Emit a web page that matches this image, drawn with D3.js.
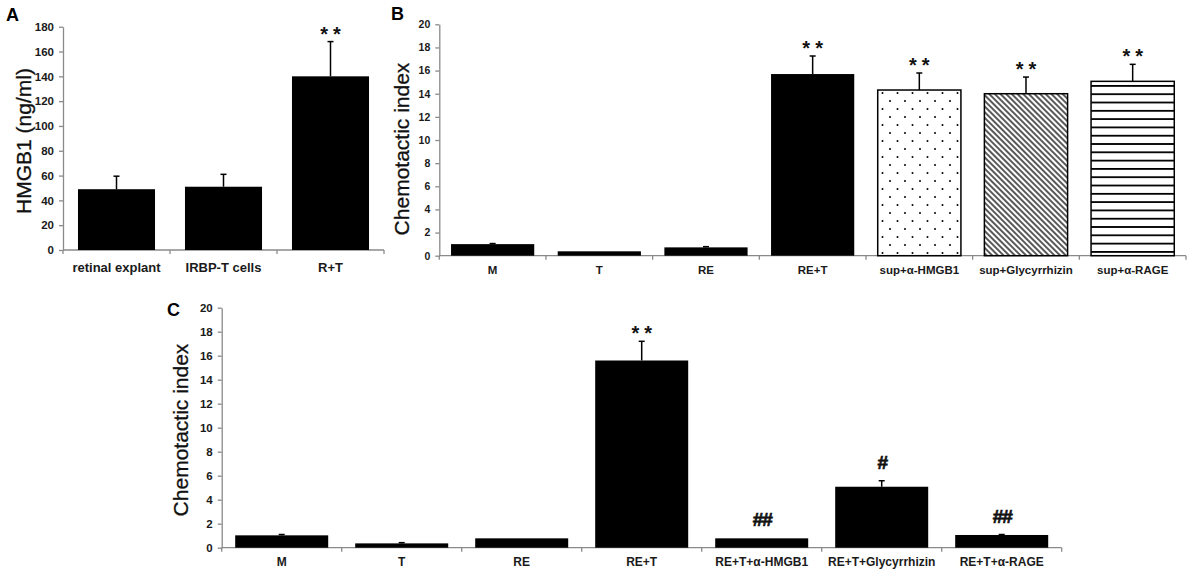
<!DOCTYPE html>
<html><head><meta charset="utf-8">
<script src="https://cdn.jsdelivr.net/npm/d3@7"></script>
<style>
body{margin:0;background:#fff;}
svg{display:block;font-family:"Liberation Sans",Arial,sans-serif;}
</style></head>
<body>
<svg id="chart" width="1192" height="580"></svg>
<script>
// ---- Data ----
const catsA = ["retinal explant", "IRBP-T cells", "R+T"];
const valsA = [49, 51, 140];
const errA  = [10.5, 10, 28];
const sigA  = ["", "", "**"];
const ticksA = [0, 20, 40, 60, 80, 100, 120, 140, 160, 180];

const catsB = ["M", "T", "RE", "RE+T", "sup+α-HMGB1", "sup+Glycyrrhizin", "sup+α-RAGE"];
const valsB = [1.0, 0.38, 0.72, 15.7, 14.32, 14.0, 15.07];
const errB  = [0.05, 0, 0.06, 1.56, 1.47, 1.44, 1.47];
const sigB  = ["", "", "", "**", "**", "**", "**"];
const fillB = ["solid", "solid", "solid", "solid", "dots", "diag", "stripes"];

const catsC = ["M", "T", "RE", "RE+T", "RE+T+α-HMGB1", "RE+T+Glycyrrhizin", "RE+T+α-RAGE"];
const valsC = [1.03, 0.36, 0.78, 15.6, 0.78, 5.08, 1.06];
const errC  = [0.07, 0.06, 0, 1.6, 0, 0.5, 0.04];
const sigC  = ["", "", "", "**", "##", "#", "##"];
const fillC = ["solid", "solid", "solid", "solid", "solid", "solid", "solid"];

const ticksBC = [0, 2, 4, 6, 8, 10, 12, 14, 16, 18, 20];

// ---- Drawing ----
const svg = d3.select("#chart");
const defs = svg.append("defs");

// dots pattern
const pd = defs.append("pattern").attr("id", "dots").attr("patternUnits", "userSpaceOnUse")
  .attr("width", 15).attr("height", 16).attr("x", 2).attr("y", 3);
pd.append("rect").attr("width", 15).attr("height", 16).attr("fill", "#fff");
pd.append("circle").attr("cx", 3).attr("cy", 2).attr("r", 1).attr("fill", "#000");
pd.append("circle").attr("cx", 10.5).attr("cy", 10).attr("r", 1).attr("fill", "#000");
// diagonal hatch
const pg = defs.append("pattern").attr("id", "diag").attr("patternUnits", "userSpaceOnUse")
  .attr("width", 4).attr("height", 4).attr("patternTransform", "rotate(-45)");
pg.append("rect").attr("width", 4).attr("height", 4).attr("fill", "#fff");
pg.append("line").attr("x1", 1).attr("y1", 0).attr("x2", 1).attr("y2", 4)
  .attr("stroke", "#000").attr("stroke-width", 1.3);
// horizontal stripes
const ps = defs.append("pattern").attr("id", "stripes").attr("patternUnits", "userSpaceOnUse")
  .attr("width", 10).attr("height", 8.3).attr("y", 2);
ps.append("rect").attr("width", 10).attr("height", 8.3).attr("fill", "#fff");
ps.append("rect").attr("y", 0).attr("width", 10).attr("height", 1.8).attr("fill", "#000");

function drawPanel(p) {
  const g = svg.append("g");
  const x = d3.scaleBand().domain(p.cats).range([p.x0, p.x1]).paddingInner(p.pad).paddingOuter(p.pad / 2);
  const y = d3.scaleLinear().domain([0, p.ymax]).range([p.y0, p.y1]);
  const axisColor = "#8a8a8a";

  // y axis
  const ya = g.append("g").attr("transform", `translate(${p.x0},0)`)
    .call(d3.axisLeft(y).tickValues(p.ticks).tickSize(4).tickPadding(5).tickSizeOuter(0));
  ya.select(".domain").attr("stroke", axisColor).attr("stroke-width", 1.3);
  ya.selectAll(".tick line").attr("stroke", axisColor).attr("stroke-width", 1.3);
  ya.selectAll(".tick text").attr("font-size", p.tickFont).attr("font-weight", "bold")
    .attr("fill", "#1a1a1a").attr("font-family", "'Liberation Sans',Arial,sans-serif");

  // x axis line and boundary ticks
  g.append("line").attr("x1", p.x0).attr("x2", p.x1).attr("y1", p.y0).attr("y2", p.y0)
    .attr("stroke", axisColor).attr("stroke-width", 1.3);
  const bounds = p.cats.map(c => x(c) - x.step() * x.paddingInner() / 2).concat([p.x1]);
  g.selectAll(".bt").data(bounds).join("line")
    .attr("x1", d => d).attr("x2", d => d).attr("y1", p.y0).attr("y2", p.y0 + 4)
    .attr("stroke", axisColor).attr("stroke-width", 1.3);

  // bars
  const data = p.cats.map((c, i) => ({ c, v: p.vals[i], e: p.errs[i], s: p.sig[i], f: p.fills[i] }));
  // error bars (drawn behind the bars)
  const eb = g.selectAll(".eb").data(data.filter(d => d.e > 0)).join("g");
  eb.append("line").attr("x1", d => x(d.c) + x.bandwidth() / 2).attr("x2", d => x(d.c) + x.bandwidth() / 2)
    .attr("y1", d => y(d.v)).attr("y2", d => y(d.v + d.e)).attr("stroke", "#000").attr("stroke-width", 1.5);
  eb.append("line").attr("x1", d => x(d.c) + x.bandwidth() / 2 - 3).attr("x2", d => x(d.c) + x.bandwidth() / 2 + 3)
    .attr("y1", d => y(d.v + d.e)).attr("y2", d => y(d.v + d.e)).attr("stroke", "#000").attr("stroke-width", 1.5);

  g.selectAll(".bar").data(data).join("rect")
    .attr("x", d => x(d.c)).attr("width", x.bandwidth())
    .attr("y", d => y(d.v)).attr("height", d => p.y0 - y(d.v))
    .attr("fill", d => d.f === "solid" ? "#000" : `url(#${d.f})`)
    .attr("stroke", "#000").attr("stroke-width", d => d.f === "solid" ? 0 : 1.5);

  // significance marks
  const star = d => d.s.startsWith("*");
  g.selectAll(".sig").data(data.filter(d => d.s)).join("text")
    .attr("x", d => x(d.c) + x.bandwidth() / 2)
    .attr("dx", d => star(d) ? 2.5 : 0.5)
    .attr("y", d => star(d) ? y(d.v + d.e) + p.starDy : y(d.v + d.e) - p.hashDy)
    .attr("text-anchor", "middle").attr("font-weight", "bold")
    .attr("font-size", d => star(d) ? 20 : 19)
    .attr("letter-spacing", d => star(d) ? 5 : -1)
    .attr("stroke", d => star(d) ? "none" : "#111").attr("stroke-width", 0.7)
    .attr("fill", "#111").text(d => d.s);

  // category labels
  g.selectAll(".cl").data(p.cats).join("text")
    .attr("x", d => x(d) + x.bandwidth() / 2).attr("y", p.catY)
    .attr("text-anchor", "middle").attr("font-weight", "bold").attr("font-size", p.catFont)
    .attr("fill", "#1a1a1a").text(d => d);

  // y title
  g.append("text").attr("transform", `translate(${p.titleX},${p.titleY}) rotate(-90)`)
    .attr("text-anchor", "middle").attr("font-size", 21).attr("fill", "#111")
    .attr("stroke", "#111").attr("stroke-width", 0.3).text(p.title);

  // panel letter
  g.append("text").attr("x", p.letterX).attr("y", p.letterY).attr("font-weight", "bold")
    .attr("font-size", 18).attr("fill", "#000").text(p.letter);
}

drawPanel({ cats: catsA, vals: valsA, errs: errA, sig: sigA, fills: ["solid", "solid", "solid"],
  ticks: ticksA, ymax: 180, x0: 63, x1: 384, y0: 250, y1: 26.7, pad: 0.28,
  tickFont: 11.5, catFont: 13, catY: 272, starDy: -1, hashDy: 10,
  title: "HMGB1 (ng/ml)", titleX: 31, titleY: 141, letter: "A", letterX: 6, letterY: 21 });

drawPanel({ cats: catsB, vals: valsB, errs: errB, sig: sigB, fills: fillB,
  ticks: ticksBC, ymax: 20, x0: 439.3, x1: 1186, y0: 255.7, y1: 24.3, pad: 0.22,
  tickFont: 10.5, catFont: 11.5, catY: 274, starDy: -1, hashDy: 10,
  title: "Chemotactic index", titleX: 409, titleY: 149, letter: "B", letterX: 391, letterY: 20 });

drawPanel({ cats: catsC, vals: valsC, errs: errC, sig: sigC, fills: fillC,
  ticks: ticksBC, ymax: 20, x0: 221.7, x1: 1061.7, y0: 547.7, y1: 307.7, pad: 0.225,
  tickFont: 11.5, catFont: 12, catY: 566, starDy: -1, hashDy: 12,
  title: "Chemotactic index", titleX: 188, titleY: 430, letter: "C", letterX: 167, letterY: 316 });
</script>
</body></html>
